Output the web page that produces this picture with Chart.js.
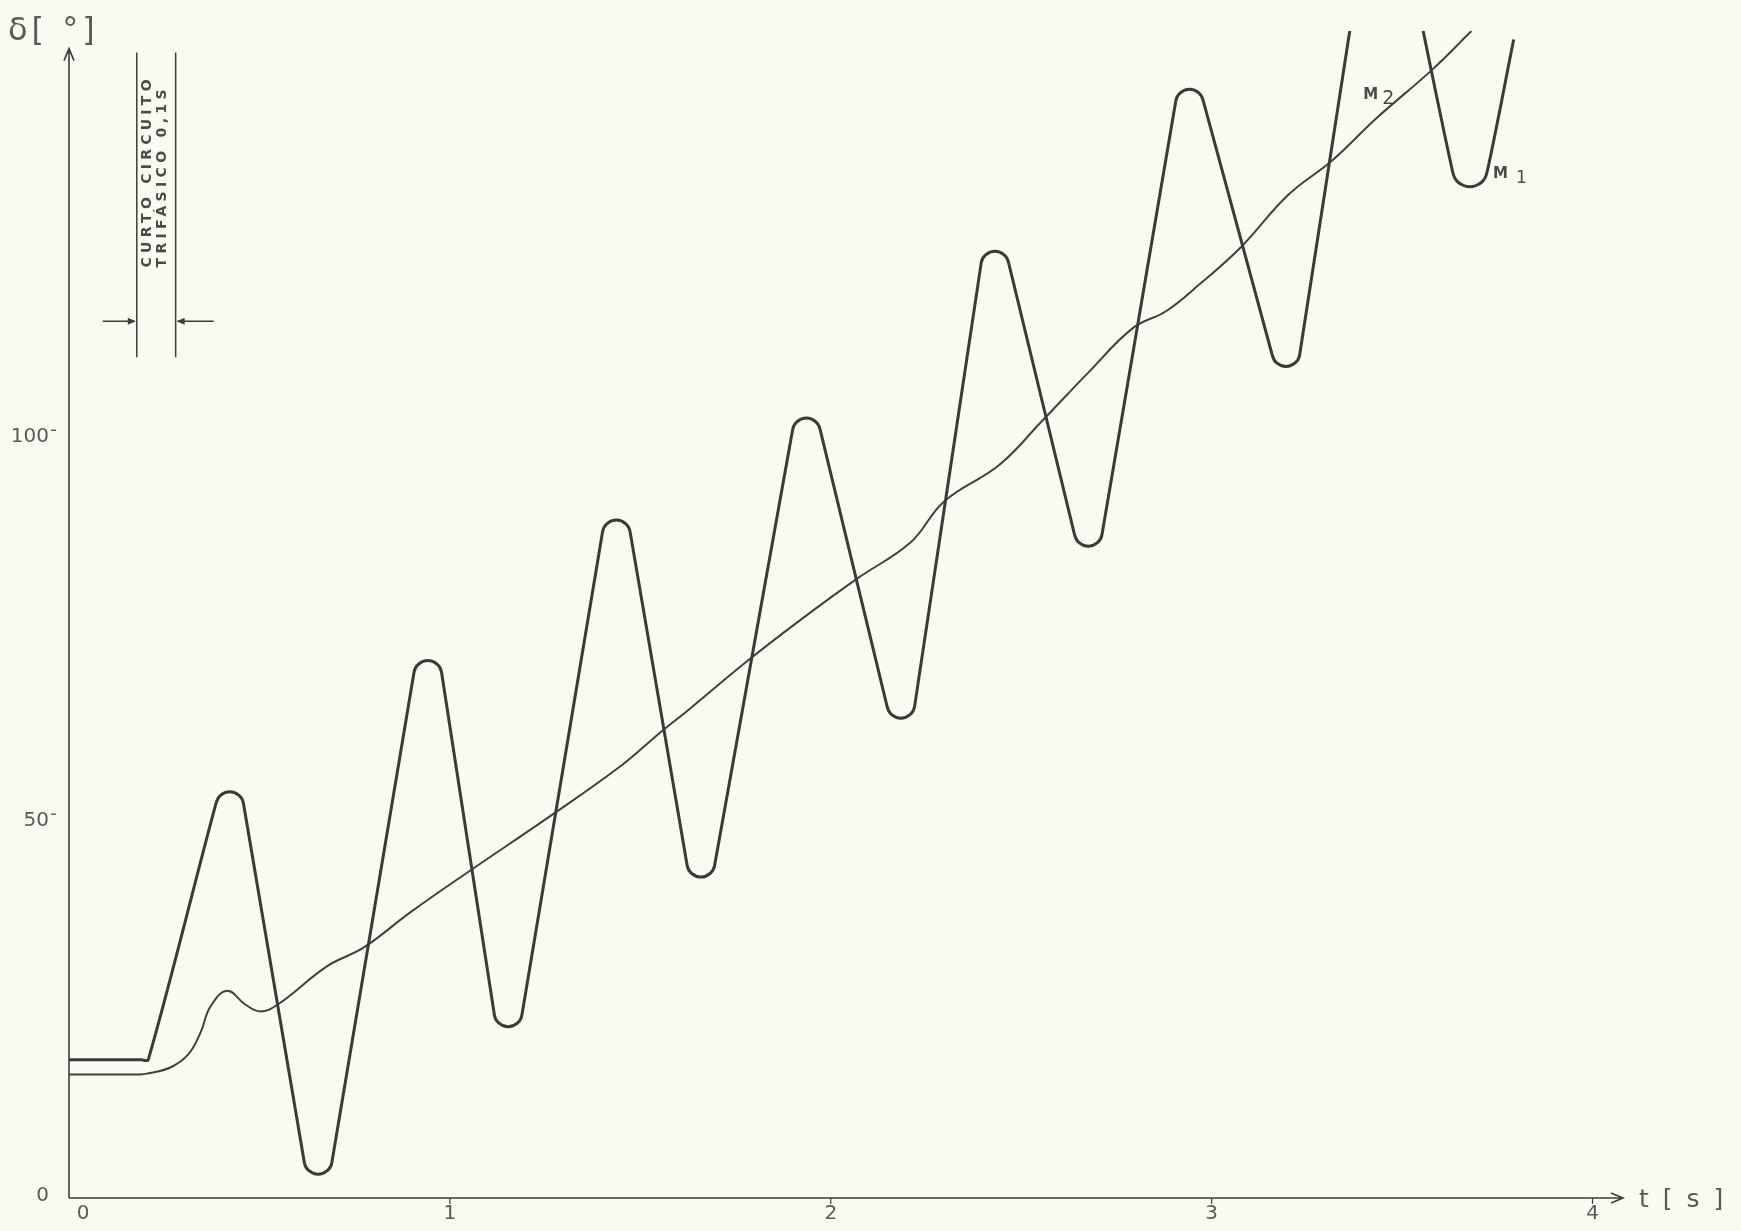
<!DOCTYPE html>
<html>
<head>
<meta charset="utf-8">
<title>Curto circuito trifásico - ângulos M1 e M2</title>
<script src="https://cdn.jsdelivr.net/npm/chart.js@4.4.1/dist/chart.umd.min.js"></script>
<style>
  html, body { margin: 0; padding: 0; background: #fafaf1; }
  #wrap { width: 1741px; height: 1231px; }
</style>
</head>
<body>
<div id="wrap"><canvas id="deltaChart"></canvas></div>
<script>
// ---------------- values ----------------

// M1 : t [s] / delta [deg]  (five points per extreme give the rounded pen caps)
const m1T = [0, 0.190, 0.208,
  0.386, 0.397, 0.422, 0.447, 0.458,
  0.618, 0.629, 0.654, 0.679, 0.690,
  0.906, 0.917, 0.942, 0.967, 0.978,
  1.117, 1.128, 1.153, 1.178, 1.189,
  1.401, 1.412, 1.437, 1.462, 1.473,
  1.623, 1.634, 1.659, 1.684, 1.695,
  1.900, 1.911, 1.936, 1.961, 1.972,
  2.148, 2.159, 2.184, 2.209, 2.220,
  2.395, 2.406, 2.431, 2.456, 2.467,
  2.640, 2.651, 2.676, 2.701, 2.712,
  2.906, 2.917, 2.942, 2.967, 2.978,
  3.159, 3.170, 3.195, 3.220, 3.231,
  3.414, 3.425, 3.450, 3.475, 3.486,
  3.633, 3.647, 3.678, 3.709, 3.723,
  3.793];
const m1D = [18.0, 18.0, 18.0,
  51.4, 52.4, 52.9, 52.4, 51.4,
  4.6, 3.6, 3.1, 3.6, 4.6,
  68.5, 69.5, 70.0, 69.5, 68.5,
  23.8, 22.8, 22.3, 22.8, 23.8,
  86.8, 87.8, 88.3, 87.8, 86.8,
  43.3, 42.3, 41.8, 42.3, 43.3,
  100.1, 101.1, 101.6, 101.1, 100.1,
  64.0, 63.0, 62.5, 63.0, 64.0,
  121.8, 122.8, 123.3, 122.8, 121.8,
  86.4, 85.4, 84.9, 85.4, 86.4,
  142.9, 143.9, 144.4, 143.9, 142.9,
  109.8, 108.8, 108.3, 108.8, 109.8,
  168.5, 169.5, 170.0, 169.5, 168.5,
  133.6, 132.3, 131.7, 132.3, 133.6,
  150.9];

// M2
const m2T = [0, 0.185, 0.205, 0.266, 0.313, 0.345, 0.371, 0.415, 0.463, 0.502,
  0.548, 0.678, 0.773, 0.896, 1.046, 1.268, 1.452, 1.554, 1.627, 1.780,
  1.918, 2.070, 2.210, 2.297, 2.443, 2.551, 2.676, 2.793, 2.880, 2.968,
  3.076, 3.200, 3.318, 3.434, 3.580, 3.682];
const m2D = [16.1, 16.1, 16.2, 17.0, 18.7, 21.5, 24.9, 27.0, 25.2, 24.3,
  25.2, 30.2, 32.6, 37.2, 42.4, 49.9, 56.4, 60.7, 63.6, 69.9,
  75.2, 80.7, 85.4, 90.7, 95.5, 101.0, 107.5, 113.3, 115.5, 119.0,
  123.8, 130.6, 135.2, 140.7, 147.0, 152.0];

const xTicks = [0, 1, 2, 3, 4];
const yTicks = [0, 50, 100];

// duration of the fault (0,1 s) marked top left
const faultStart = 0.178;
const faultEnd = 0.280;

// ---------------- drawing ----------------

const ink = '#3d3d3d';
const pencil = '#5a5a5a';

function toPoints(ts, ds) {
    return ts.map((t, i) => ({ x: t, y: ds[i] }));
}

function arrowHead(ctx, x, y, dx, dy) {
    // small filled head pointing along (dx, dy)
    const a = Math.atan2(dy, dx);
    ctx.beginPath();
    ctx.moveTo(x, y);
    ctx.lineTo(x - 8 * Math.cos(a) + 3.5 * Math.sin(a), y - 8 * Math.sin(a) - 3.5 * Math.cos(a));
    ctx.lineTo(x - 8 * Math.cos(a) - 3.5 * Math.sin(a), y - 8 * Math.sin(a) + 3.5 * Math.cos(a));
    ctx.closePath();
    ctx.fill();
}

function spacedText(ctx, text, x, y, width) {
    // spread the letters over a given length, like the typed lettering
    const plain = ctx.measureText(text).width;
    ctx.letterSpacing = Math.max(0, (width - plain) / (text.length - 1)) + 'px';
    ctx.fillText(text, x, y);
    ctx.letterSpacing = '0px';
}

const paperPlugin = {
    id: 'paper',
    beforeDatasetsDraw(chart) {
        const { ctx, scales: { x, y } } = chart;
        const x0 = x.getPixelForValue(0);
        const y0 = y.getPixelForValue(0);
        ctx.save();
        ctx.strokeStyle = ink;
        ctx.fillStyle = pencil;
        ctx.lineWidth = 1.6;

        // y axis + arrow
        const yTip = y.getPixelForValue(149.7);
        ctx.beginPath();
        ctx.moveTo(x0, y0);
        ctx.lineTo(x0, yTip);
        ctx.moveTo(x0 - 5, yTip + 12);
        ctx.lineTo(x0, yTip);
        ctx.lineTo(x0 + 5, yTip + 12);
        ctx.stroke();

        // x axis + arrow
        const xTip = x.getPixelForValue(4.08);
        ctx.beginPath();
        ctx.moveTo(x0, y0);
        ctx.lineTo(xTip, y0);
        ctx.moveTo(xTip - 12, y0 - 5);
        ctx.lineTo(xTip, y0);
        ctx.lineTo(xTip - 12, y0 + 5);
        ctx.stroke();

        // ticks and labels
        ctx.font = '20px "DejaVu Sans"';
        ctx.textBaseline = 'middle';
        ctx.lineWidth = 1.2;
        yTicks.forEach(v => {
            const py = y.getPixelForValue(v);
            ctx.textAlign = 'right';
            ctx.fillText(String(v), x0 - 20, v === 0 ? py - 2 : py + 7);
            if (v !== 0) {
                ctx.beginPath();
                ctx.moveTo(x0 - 18, py);
                ctx.lineTo(x0 - 13, py);
                ctx.stroke();
            }
        });
        xTicks.forEach(v => {
            const px = x.getPixelForValue(v);
            ctx.textAlign = 'center';
            ctx.fillText(String(v), v === 0 ? px + 14 : px, y0 + 16);
            if (v !== 0) {
                ctx.beginPath();
                ctx.moveTo(px, y0);
                ctx.lineTo(px, y0 + 6);
                ctx.stroke();
            }
        });

        // axis names
        ctx.textAlign = 'left';
        ctx.textBaseline = 'alphabetic';
        ctx.font = '32px "DejaVu Sans"';
        ctx.letterSpacing = '4px';
        ctx.fillText('δ[ °]', 8, 40);
        ctx.font = '25px "DejaVu Sans"';
        ctx.letterSpacing = '3px';
        ctx.fillText('t [ s ]', xTip + 16, y0 + 9);
        ctx.letterSpacing = '0px';

        // fault duration marks
        const fa = x.getPixelForValue(faultStart);
        const fb = x.getPixelForValue(faultEnd);
        const top = y.getPixelForValue(149.2);
        const bot = y.getPixelForValue(109.5);
        const ay = y.getPixelForValue(114.2);
        ctx.strokeStyle = ink;
        ctx.fillStyle = ink;
        ctx.lineWidth = 1.5;
        ctx.beginPath();
        ctx.moveTo(fa, top); ctx.lineTo(fa, bot);
        ctx.moveTo(fb, top); ctx.lineTo(fb, bot);
        ctx.moveTo(fa - 34, ay); ctx.lineTo(fa - 2, ay);
        ctx.moveTo(fb + 38, ay); ctx.lineTo(fb + 2, ay);
        ctx.stroke();
        arrowHead(ctx, fa - 1, ay, 1, 0);
        arrowHead(ctx, fb + 1, ay, -1, 0);

        ctx.fillStyle = '#4a4a4a';
        ctx.font = 'bold 14px "DejaVu Sans"';
        ctx.textBaseline = 'middle';
        const textBottom = y.getPixelForValue(121.2);
        ctx.save();
        ctx.translate(fa + 11, textBottom);
        ctx.rotate(-Math.PI / 2);
        spacedText(ctx, 'CURTO CIRCUITO', 0, 0, 188);
        ctx.restore();
        ctx.save();
        ctx.translate(fa + 26, textBottom);
        ctx.rotate(-Math.PI / 2);
        spacedText(ctx, 'TRIFÁSICO 0,1S', 0, 0, 178);
        ctx.restore();

        // curve names
        ctx.fillStyle = '#4a4a4a';
        ctx.textBaseline = 'alphabetic';
        ctx.font = 'bold 15px "DejaVu Sans"';
        let lx = x.getPixelForValue(3.398), ly = y.getPixelForValue(143.2);
        ctx.fillText('M', lx, ly);
        ctx.font = '19px "DejaVu Sans"';
        ctx.fillText('2', lx + 19, ly + 5);
        ctx.font = 'bold 15px "DejaVu Sans"';
        lx = x.getPixelForValue(3.739); ly = y.getPixelForValue(132.9);
        ctx.fillText('M', lx, ly);
        ctx.font = '17px "DejaVu Sans"';
        ctx.fillText('1', lx + 23, ly + 5);

        ctx.restore();
    }
};

document.addEventListener('DOMContentLoaded', function () {
    new Chart(document.getElementById('deltaChart'), {
        type: 'line',
        data: {
            datasets: [{
                label: 'M1',
                data: toPoints(m1T, m1D),
                borderColor: '#3a3a3a',
                borderWidth: 3,
                borderJoinStyle: 'round',
                tension: 0.3,
                pointRadius: 0,
                fill: false
            }, {
                label: 'M2',
                data: toPoints(m2T, m2D),
                borderColor: '#404040',
                borderWidth: 2,
                tension: 0.4,
                pointRadius: 0,
                fill: false
            }]
        },
        options: {
            responsive: true,
            maintainAspectRatio: false,
            animation: false,
            layout: { padding: { left: 69, right: 118, top: 31, bottom: 33 } },
            plugins: {
                legend: { display: false },
                tooltip: { enabled: false }
            },
            scales: {
                x: { type: 'linear', min: 0, max: 4.08, display: false },
                y: { min: 0, max: 152, display: false }
            }
        },
        plugins: [paperPlugin]
    });
});
</script>
</body>
</html>
